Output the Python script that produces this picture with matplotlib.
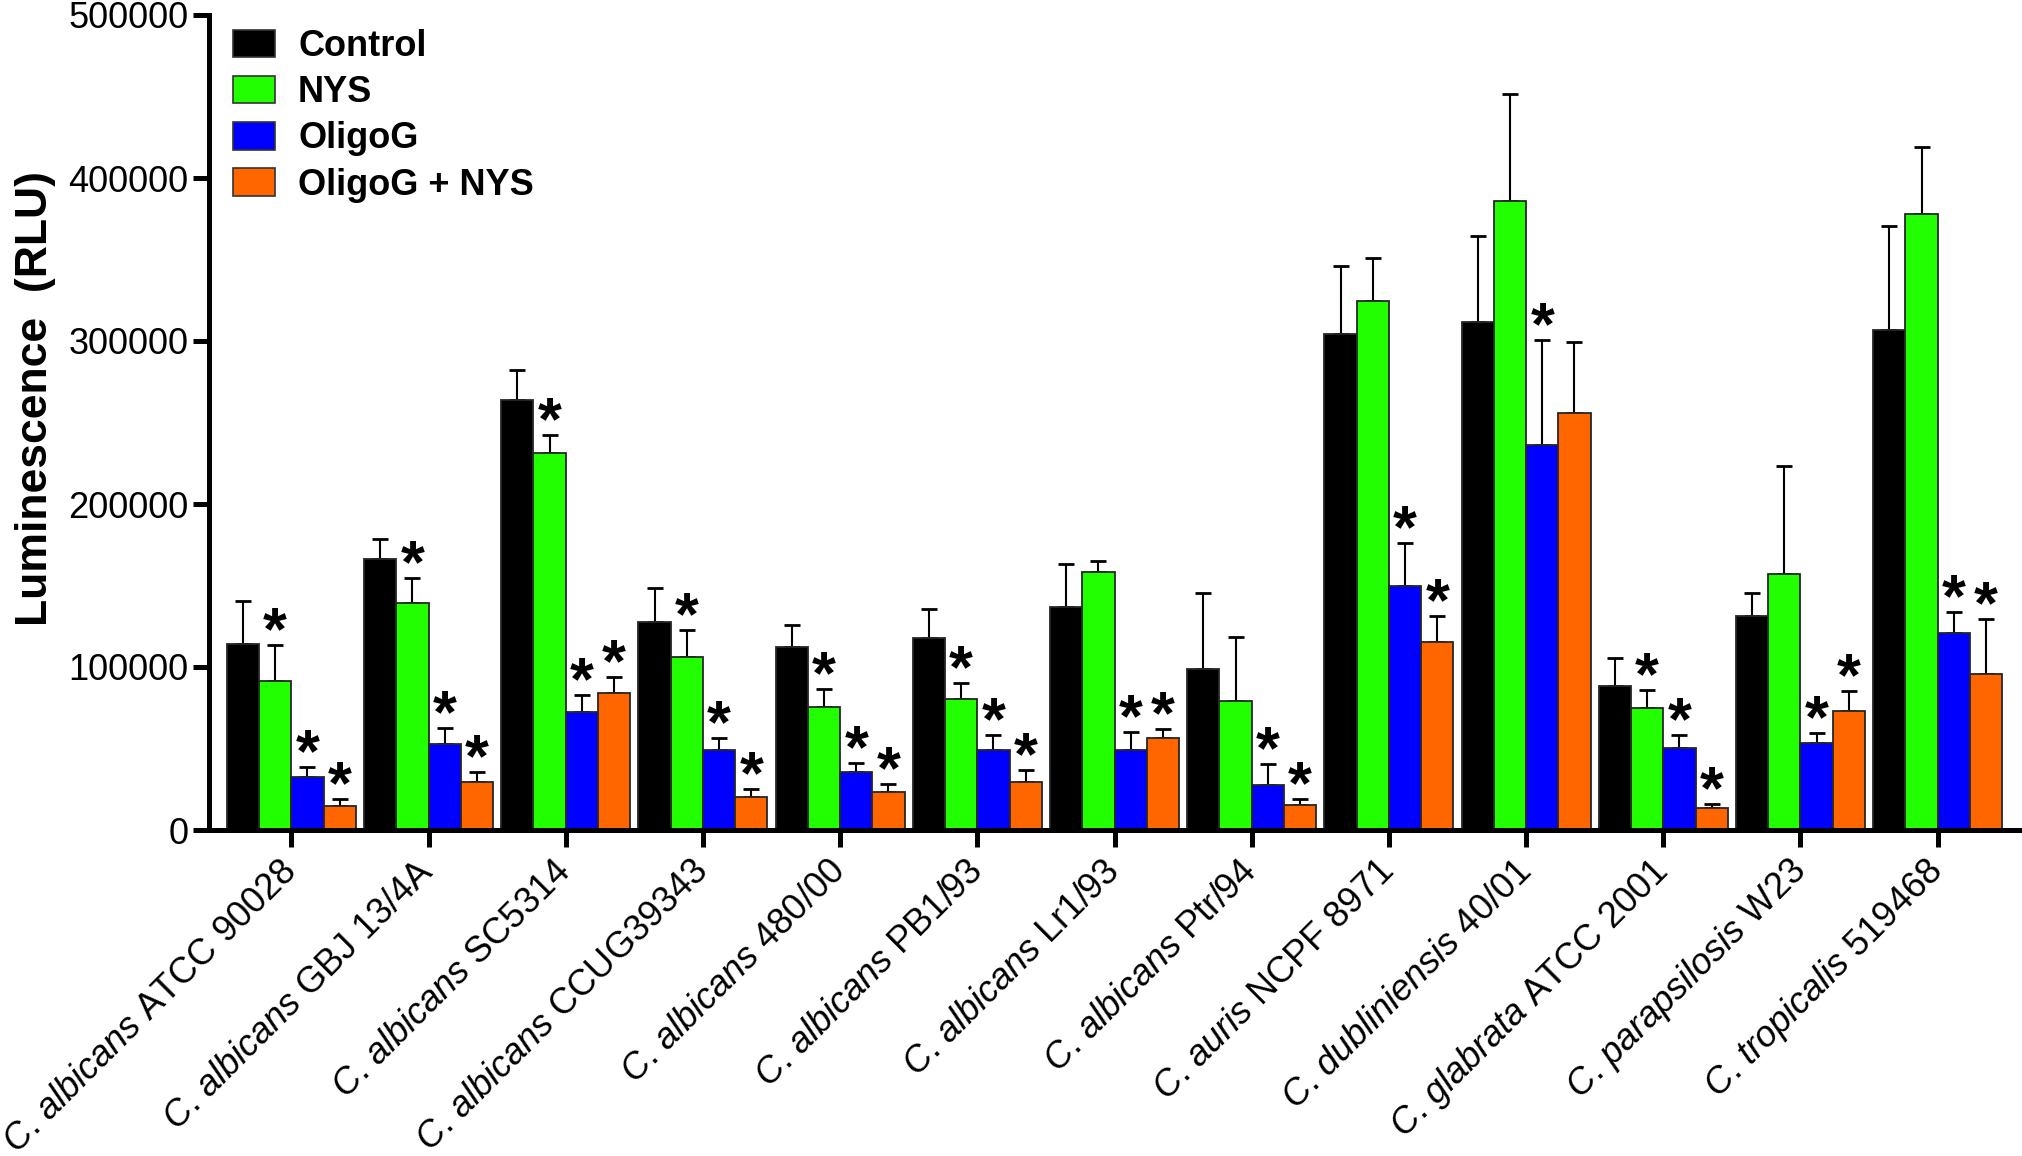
import numpy as np
import matplotlib
matplotlib.use("Agg")
import matplotlib.pyplot as plt
from matplotlib.patches import Patch
from matplotlib.font_manager import FontProperties

# ---------------- data ----------------
species = ["C. albicans", "C. albicans", "C. albicans", "C. albicans", "C. albicans",
           "C. albicans", "C. albicans", "C. albicans", "C. auris", "C. dubliniensis",
           "C. glabrata", "C. parapsilosis", "C. tropicalis"]
strains = ["ATCC 90028", "GBJ 13/4A", "SC5314", "CCUG39343", "480/00", "PB1/93",
           "Lr1/93", "Ptr/94", "NCPF 8971", "40/01", "ATCC 2001", "W23", "519468"]

series_names = ["Control", "NYS", "OligoG", "OligoG + NYS"]

control = [114000, 166000, 263700, 127800, 112300, 117800, 136800, 98800,
           304500, 311600, 88400, 131100, 306600]
control_sd = [26500, 12300, 18700, 20700, 13500, 17800, 26600, 46800,
              41700, 52900, 17000, 14500, 64000]

nys = [91500, 139000, 231500, 106200, 75500, 80400, 158500, 79100,
       324300, 385800, 75100, 157300, 377700]
nys_sd = [22000, 15300, 11000, 16600, 10800, 10000, 6500, 39100,
          26900, 65800, 10500, 66200, 41500]

oligog = [32800, 52500, 72400, 49100, 35800, 49300, 48900, 27600,
          149600, 235900, 50400, 53200, 120600]
oligog_sd = [5700, 10300, 10600, 7500, 5300, 8800, 11400, 12900,
             26600, 64900, 7700, 6500, 13200]

combo = [15000, 29500, 84000, 20000, 23500, 29400, 56600, 15200,
         115300, 256000, 13800, 73300, 95500]
combo_sd = [4300, 5800, 10000, 5400, 4500, 7600, 5200, 3600,
            15800, 43500, 2000, 12000, 33700]

# significance markers (*)
control_sig = [False] * 13
nys_sig = [True, True, True, True, True, True, False, False, False, False, True, False, False]
oligog_sig = [True] * 13
combo_sig = [True, True, True, True, True, True, True, True, True, False, True, True, True]

yticks = [0, 100000, 200000, 300000, 400000, 500000]

# ---------------- style ----------------
plt.rcParams['font.family'] = ['Liberation Sans', 'DejaVu Sans']
plt.rcParams['mathtext.fontset'] = 'custom'
plt.rcParams['mathtext.it'] = 'Liberation Sans:italic'
plt.rcParams['mathtext.rm'] = 'Liberation Sans'

colors = ['#000000', '#22FF00', '#0000FF', '#FF6600']
edge = '#262626'

W, H = 2022, 1156
fig = plt.figure(figsize=(W / 100, H / 100), dpi=100)
ax = fig.add_axes([209 / W, 1 - 830 / H, (2020 - 209) / W, (830 - 15) / H])

x = np.arange(len(strains))
width = 0.235
offsets = (np.arange(4) - 1.5) * width

means_all = [control, nys, oligog, combo]
sds_all = [control_sd, nys_sd, oligog_sd, combo_sd]
sigs_all = [control_sig, nys_sig, oligog_sig, combo_sig]

for k in range(4):
    m = np.array(means_all[k], dtype=float)
    s = np.array(sds_all[k], dtype=float)
    xp = x + offsets[k]
    ax.bar(xp, m, width=width, color=colors[k], edgecolor=edge, linewidth=1.3, zorder=2)
    ax.errorbar(xp, m, yerr=[np.zeros_like(s), s], fmt='none', ecolor='black',
                elinewidth=1.5, capsize=5.5, capthick=2, zorder=1)
    for i in range(len(x)):
        if sigs_all[k][i]:
            ax.annotate('*', xy=(xp[i], m[i] + s[i]), xytext=(0, -3),
                        textcoords='offset points', ha='center', va='baseline',
                        fontsize=44, fontweight='bold', zorder=3)

ax.set_xlim(-0.6, 12.6)
ax.set_ylim(0, 500000)
ax.set_yticks(yticks)
ax.set_yticklabels([str(t) for t in yticks])

labels = []
for sp, st in zip(species, strains):
    genus, name = sp.split(' ')
    g = genus.rstrip('.')
    labels.append(r'$\mathit{' + g + r'}$. $\mathit{' + name + '}$ ' + st)
ax.set_xticks(x)
ax.set_xticklabels(labels, rotation=45, ha='right', va='center', rotation_mode='anchor')

for side in ['top', 'right']:
    ax.spines[side].set_visible(False)
for side in ['left', 'bottom']:
    ax.spines[side].set_linewidth(3.6)
ax.tick_params(axis='y', length=11.5, width=3.6, labelsize=26, pad=3.5)
ax.tick_params(axis='x', length=12, width=3.6, labelsize=26, pad=14)

fig.text(36 / W, 1 - 399 / H, 'Luminescence  (RLU)', rotation=90, ha='center', va='center',
         fontsize=32, fontweight='bold')

handles = [Patch(facecolor=c, edgecolor='#333333', linewidth=1.2, label=l)
           for c, l in zip(colors, series_names)]
ax.legend(handles=handles, loc='upper left', bbox_to_anchor=(233 / W, 1 - 29 / H),
          bbox_transform=fig.transFigure, frameon=False, borderpad=0, borderaxespad=0,
          handlelength=1.15, handleheight=0.8, handletextpad=0.65, labelspacing=0.31,
          prop=FontProperties(family='Liberation Sans', weight='bold', size=26))

fig.savefig('out.png', dpi=100)
